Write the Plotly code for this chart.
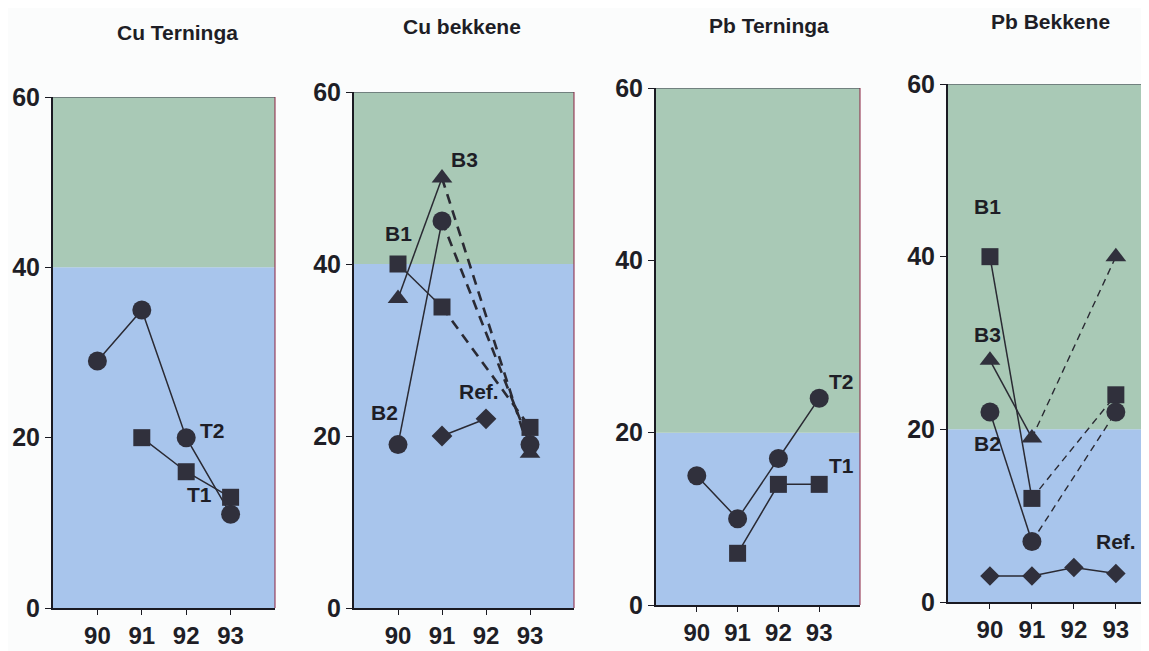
import plotly.graph_objects as go

# ---- data ----
years = [90, 91, 92, 93]
titles = ["Cu Terninga", "Cu bekkene", "Pb Terninga", "Pb Bekkene"]
y_ticks = [0, 20, 40, 60]
limits = [40, 40, 20, 20]          # boundary between blue and green zones

cu_t_T2 = [29, 35, 20, 11]
cu_t_T1 = [None, 20, 16, 13]

cu_b_B1 = [40, 35, None, 21]
cu_b_B2 = [19, 45, None, 19]
cu_b_B3 = [36, 50, None, 18]
cu_b_ref = [None, 20, 22, None]

pb_t_T2 = [15, 10, 17, 24]
pb_t_T1 = [None, 6, 14, 14]

pb_b_B1 = [40, 12, None, 24]
pb_b_B2 = [22, 7, None, 22]
pb_b_B3 = [28, 19, None, 40]
pb_b_ref = [3, 3, 4, 3.3]

# ---- style ----
OFF = 8                      # page body margin
W, H = 1149 - OFF, 651 - OFF
MK = "#30303c"
LN = "#2a2a33"
GREEN = "#a9c9b6"
BLUE = "#a8c5ec"
FONT = "Liberation Sans, Arial, sans-serif"
TXT = "#1e1e26"


def px(x):
    return (x - OFF) / W


def py(y):
    return 1 - (y - OFF) / H


# pixel boxes (window coords) of the 4 plot areas: (x_left, x_right, y_top(60), y_bottom(0), xmax)
boxes = [
    (53, 275, 97, 608, 94),
    (354, 574, 92, 608, 94),
    (656, 860, 88, 605, 94),
    (948, 1149, 84, 602, 93.79),
]

fig = go.Figure()


def ax(i):
    return ("x" if i == 0 else f"x{i+1}"), ("y" if i == 0 else f"y{i+1}")


def markers(i, vals, symbol, size):
    xa, ya = ax(i)
    xs = [x for x, v in zip(years, vals) if v is not None]
    ys = [v for v in vals if v is not None]
    fig.add_trace(go.Scatter(x=xs, y=ys, mode="markers", xaxis=xa, yaxis=ya,
                             marker=dict(symbol=symbol, size=size, color=MK,
                                         line=dict(width=0)),
                             showlegend=False, hoverinfo="skip"))


def line(i, xs, ys, dash="solid", width=1.5):
    xa, ya = ax(i)
    fig.add_trace(go.Scatter(x=xs, y=ys, mode="lines", xaxis=xa, yaxis=ya,
                             line=dict(color=LN, width=width, dash=dash),
                             showlegend=False, hoverinfo="skip"))


def full_series(i, vals):
    xs = [x for x, v in zip(years, vals) if v is not None]
    ys = [v for v in vals if v is not None]
    line(i, xs, ys)


def split_series(i, vals, dash, dwidth):
    line(i, years[0:2], vals[0:2])
    line(i, [years[1], years[3]], [vals[1], vals[3]], dash=dash, width=dwidth)


# panel 1
full_series(0, cu_t_T2)
full_series(0, cu_t_T1)
markers(0, cu_t_T2, "circle", 19)
markers(0, cu_t_T1, "square", 17)

# panel 2
for v in (cu_b_B1, cu_b_B2, cu_b_B3):
    split_series(1, v, "10px,7px", 2.6)
full_series(1, cu_b_ref)
markers(1, cu_b_B1, "square", 17)
markers(1, cu_b_B2, "circle", 19)
markers(1, cu_b_B3, "triangle-up", 18)
markers(1, cu_b_ref, "diamond", 16)

# panel 3
full_series(2, pb_t_T2)
full_series(2, pb_t_T1)
markers(2, pb_t_T2, "circle", 19)
markers(2, pb_t_T1, "square", 17)

# panel 4
for v in (pb_b_B1, pb_b_B2, pb_b_B3):
    split_series(3, v, "7px,5px", 1.4)
full_series(3, pb_b_ref)
markers(3, pb_b_B1, "square", 17)
markers(3, pb_b_B2, "circle", 19)
markers(3, pb_b_B3, "triangle-up", 18)
markers(3, pb_b_ref, "diamond", 15)

shapes = []
annotations = []
layout = {}
for i, (xl, xr, yt, yb, xmax) in enumerate(boxes):
    xa, ya = ax(i)
    xkey = "xaxis" if i == 0 else f"xaxis{i+1}"
    ykey = "yaxis" if i == 0 else f"yaxis{i+1}"
    layout[xkey] = dict(domain=[px(xl), min(px(xr), 1.0)], range=[89, xmax], anchor=ya,
                        automargin=False,
                        tickvals=years, ticktext=[str(y) for y in years],
                        showgrid=False, zeroline=False, showline=True,
                        linecolor="#1a1a22", linewidth=2, ticks="outside",
                        ticklen=5, tickcolor="#1a1a22",
                        tickfont=dict(family=FONT, size=24, color=TXT,
                                      weight="bold"))
    layout[ykey] = dict(domain=[py(yb), py(yt)], range=[0, 60], anchor=xa,
                        automargin=False,
                        tickvals=y_ticks, showgrid=False, zeroline=False,
                        showline=True, linecolor="#1a1a22", linewidth=2,
                        ticks="outside", ticklen=6, tickcolor="#1a1a22",
                        ticklabelstandoff=0,
                        tickfont=dict(family=FONT, size=25, color=TXT,
                                      weight="bold"))
    xd = f"{xa} domain"
    shapes.append(dict(type="rect", xref=xd, yref=ya, x0=0, x1=1, y0=0, y1=limits[i],
                       fillcolor=BLUE, line=dict(width=0), layer="below"))
    shapes.append(dict(type="rect", xref=xd, yref=ya, x0=0, x1=1, y0=limits[i], y1=60,
                       fillcolor=GREEN, line=dict(width=0), layer="below"))
    shapes.append(dict(type="line", xref=xd, yref=ya, x0=0, x1=1, y0=60, y1=60,
                       line=dict(color="#3a3a48", width=1)))
    if i < 3:
        shapes.append(dict(type="line", xref=xd, yref=ya, x0=1, x1=1, y0=0, y1=60,
                           line=dict(color="#8a2040", width=1)))
    annotations.append(dict(text=titles[i], xref="paper", yref="paper",
                            x=px([177, 462, 769, 1050][i]),
                            y=py([32, 27, 25, 22][i]),
                            showarrow=False, xanchor="center", yanchor="middle",
                            font=dict(family=FONT, size=21, color=TXT,
                                      weight="bold")))


def lab(i, text, x, y, size=21):
    xa, ya = ax(i)
    annotations.append(dict(text=text, x=x, y=y, xref=xa, yref=ya, showarrow=False,
                            xanchor="center", yanchor="middle",
                            font=dict(family=FONT, size=size, color=TXT,
                                      weight="bold")))


lab(0, "T2", 92.6, 20.8)
lab(0, "T1", 92.3, 13.3)
lab(1, "B3", 91.5, 52.2)
lab(1, "B1", 90.0, 43.6)
lab(1, "B2", 89.7, 22.7)
lab(1, "Ref.", 91.85, 25.2)
lab(2, "T2", 93.55, 25.9)
lab(2, "T1", 93.55, 16.2)
lab(3, "B1", 89.95, 45.8)
lab(3, "B3", 89.95, 31.0)
lab(3, "B2", 89.95, 18.4)
lab(3, "Ref.", 93.0, 7.0)

fig.update_layout(width=W, height=H, margin=dict(l=0, r=0, t=0, b=0),
                  template="none",
                  paper_bgcolor="#fbfcfc", plot_bgcolor="rgba(0,0,0,0)",
                  shapes=shapes, annotations=annotations, showlegend=False,
                  **layout)

fig.write_html("out.html")
